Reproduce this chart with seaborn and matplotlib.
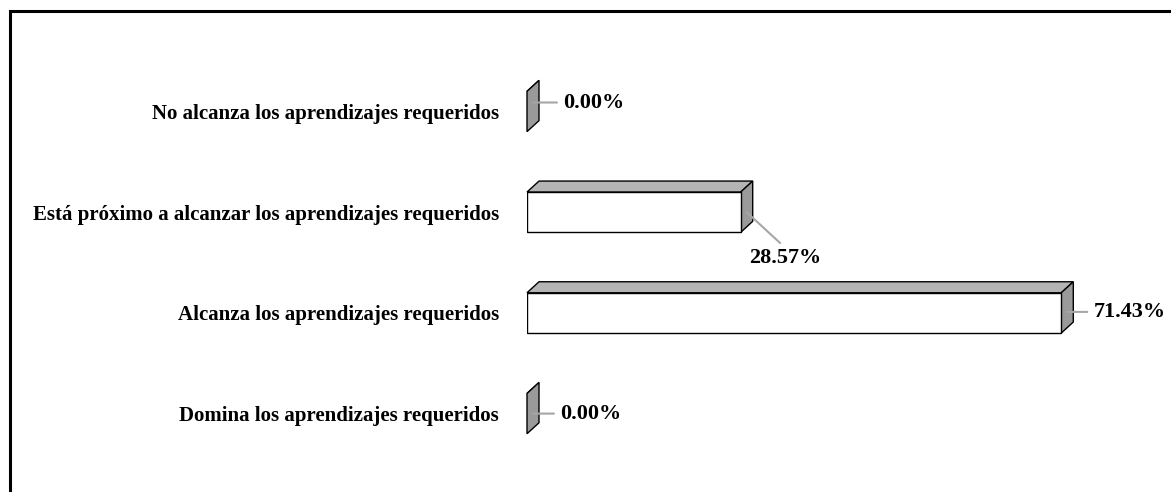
import matplotlib
matplotlib.use("Agg")
import matplotlib.pyplot as plt
from matplotlib.patches import Polygon, Rectangle
import seaborn as sns
import pandas as pd

categories = [
    "No alcanza los aprendizajes requeridos",
    "Está próximo a alcanzar los aprendizajes requeridos",
    "Alcanza los aprendizajes requeridos",
    "Domina los aprendizajes requeridos",
]
percentages = [0.00, 28.57, 71.43, 0.00]
value_labels = ["0.00%", "28.57%", "71.43%", "0.00%"]

df = pd.DataFrame({"categoria": categories, "porcentaje": percentages})

sns.set_theme(style="white")
plt.rcParams["font.family"] = ["Liberation Serif", "DejaVu Serif"]
plt.rcParams["font.weight"] = "bold"
plt.rcParams["text.color"] = "black"
plt.rcParams["ytick.color"] = "black"

W, H, DPI = 1171, 492, 100
fig = plt.figure(figsize=(W / DPI, H / DPI), dpi=DPI)

# axes geometry in pixels: value 0 at x=527, 7.48 px per percent
x0_px = 527
px_per_pct = 7.48
ax = fig.add_axes([x0_px / W, 0, (W - x0_px) / W, 1])
xmax = (W - x0_px) / px_per_pct
row0_px, row_step = 111.5, 100.7

sns.barplot(data=df, x="porcentaje", y="categoria", orient="h", width=0.4,
            color="white", edgecolor="black", linewidth=1.0, ax=ax, zorder=3)

ax.set_xlim(0, xmax)
ax.set_ylim((H - row0_px) / row_step, -row0_px / row_step)

# depth of the 3D extrusion, converted from pixels to data units
dx = 12 / px_per_pct
dy = 11 / row_step

for bar in ax.patches[:]:
    x, y = bar.get_x(), bar.get_y()
    w, h = bar.get_width(), bar.get_height()
    top = Polygon([(x, y), (x + dx, y - dy), (x + w + dx, y - dy), (x + w, y)],
                  closed=True, facecolor="#b4b4b4", edgecolor="black",
                  linewidth=1.0, zorder=2, clip_on=False)
    side = Polygon([(x + w, y), (x + w + dx, y - dy), (x + w + dx, y + h - dy), (x + w, y + h)],
                   closed=True, facecolor="#9a9a9a", edgecolor="black",
                   linewidth=1.0, zorder=2, clip_on=False)
    ax.add_patch(top)
    ax.add_patch(side)
    if w == 0:
        bar.set_visible(False)

# label placement (pixel offsets from the bar end) and leader lines
label_offsets = [(30, 9), (39, -46), (26, 1), (27, 0)]
for i, (val, lab) in enumerate(zip(percentages, value_labels)):
    ox, oy = label_offsets[i]
    below = oy < -20
    if below:
        xy, off = (val + dx / 2, i), (ox, oy)
    else:
        # horizontal leader: anchor on the side face at the label's height
        xy, off = (val + dx / 2, i - oy / row_step), (ox, 0)
    ax.annotate(lab, xy=xy, xytext=off, textcoords="offset pixels",
                ha="center" if below else "left", va="center",
                fontsize=16, fontweight="bold", color="black",
                annotation_clip=False, zorder=5,
                arrowprops=dict(arrowstyle="-", color="#a6a6a6", lw=1.5,
                                shrinkA=2, shrinkB=0,
                                relpos=(0.5, 1.0) if below else (0, 0.5)))

ax.set_xlabel("")
ax.set_ylabel("")
ax.set_xticks([])
ax.tick_params(axis="y", length=0, pad=20)
for t in ax.get_yticklabels():
    t.set_fontsize(15)
    t.set_fontweight("bold")
    t.set_color("black")
for s in ax.spines.values():
    s.set_visible(False)
ax.patch.set_alpha(0)

# outer frame of the chart area
fig.patches.append(Rectangle((9.5 / W, -0.1), 1.2, (H - 11) / H + 0.1,
                             transform=fig.transFigure, fill=False,
                             edgecolor="black", linewidth=2.2, zorder=10))

fig.savefig("out.png", dpi=DPI)
